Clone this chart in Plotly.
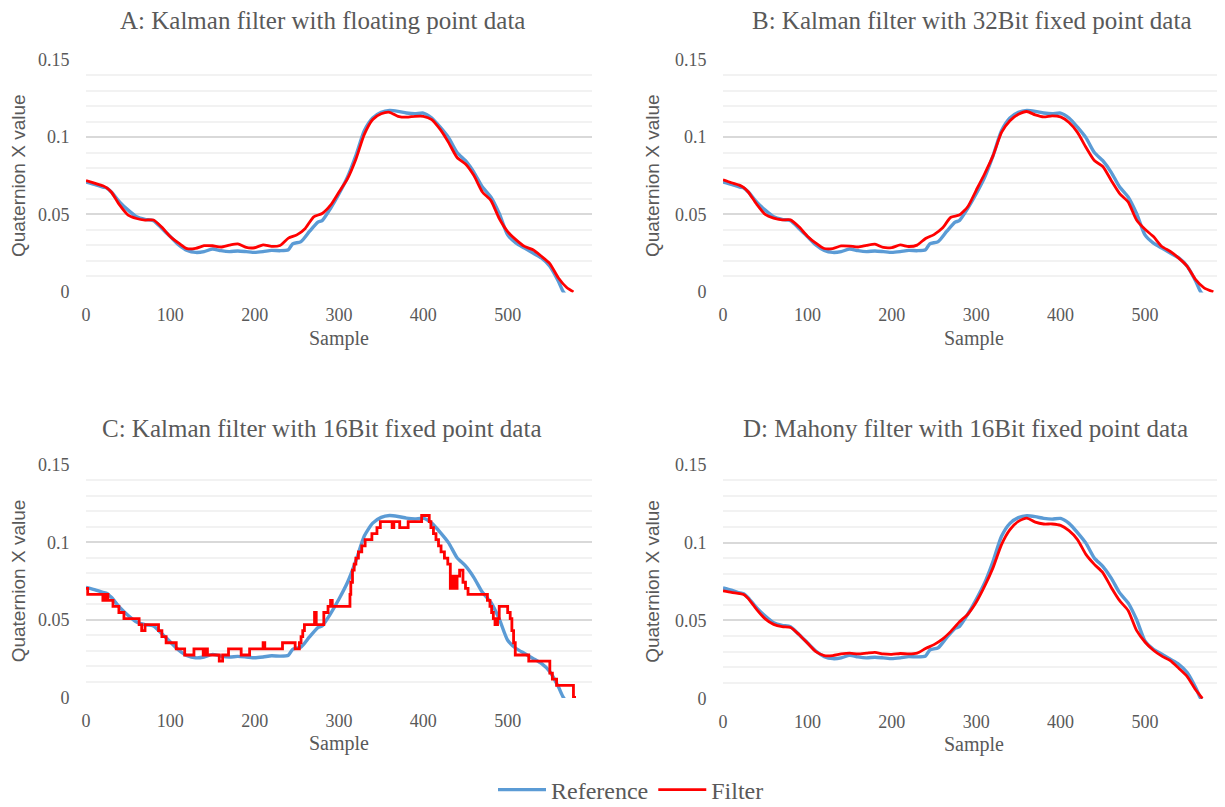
import plotly.graph_objects as go

# ---------------- data ----------------
REF_SAMPLE = [0, 10, 20, 25, 30, 40, 50, 60, 70, 80, 90,
              100, 110, 120, 130, 140, 150, 160, 170, 180, 190, 200, 210, 220, 230, 240,
              245, 255, 265, 275, 280, 290,
              300, 310, 320, 330, 340, 350, 360, 370, 380, 390, 400, 410, 420, 430, 440,
              450, 460, 470, 480, 490, 500, 510, 520, 530, 540, 550, 560, 566, 575]
REF_Q = [0.0709, 0.0694, 0.0677, 0.067, 0.0645, 0.058, 0.0528, 0.0485, 0.0468, 0.046, 0.041,
         0.0357, 0.0304, 0.0268, 0.0255, 0.026, 0.0277, 0.0266, 0.026, 0.0264, 0.026, 0.0255,
         0.026, 0.0268, 0.0266, 0.0272,
         0.031, 0.0325, 0.039, 0.045, 0.046, 0.054,
         0.0634, 0.074, 0.088, 0.104, 0.1123, 0.116, 0.1172, 0.1166, 0.1155, 0.115, 0.1155,
         0.1123, 0.1064, 0.0996, 0.090, 0.0847, 0.0772, 0.0677, 0.0613, 0.0506, 0.0368,
         0.0315, 0.0283, 0.0251, 0.0219, 0.0166, 0.007, 0.0, -0.006]

FILT_SAMPLE = [0, 10, 20, 25, 30, 40, 50, 60, 70, 80, 90,
               100, 110, 120, 130, 140, 150, 160, 170, 180, 190, 200, 210, 220, 230, 240,
               250, 260, 270, 280, 290, 300, 310, 320, 330, 340, 350, 360, 370, 380, 390,
               400, 410, 420, 430, 440, 450, 460, 470, 480, 490, 500, 510, 520, 530, 540,
               550, 560, 570]

FILT_A = [0.0719, 0.0702, 0.0685, 0.067, 0.0645, 0.056, 0.0496, 0.0474, 0.0464, 0.0464, 0.0417,
          0.0357, 0.0315, 0.0279, 0.0281, 0.0298, 0.0298, 0.029, 0.0302, 0.031, 0.0287, 0.0285,
          0.0304, 0.0294, 0.03, 0.0347, 0.0368, 0.041, 0.0485, 0.0506, 0.056, 0.0645, 0.073,
          0.0857, 0.1017, 0.1113, 0.115, 0.116, 0.1134, 0.1128, 0.1134, 0.1134, 0.1113, 0.1049,
          0.0964, 0.0868, 0.0826, 0.0751, 0.0645, 0.0591, 0.0474, 0.0389, 0.0336, 0.0294,
          0.0272, 0.023, 0.0183, 0.0091, 0.0028]
FILT_A_END = [578, 0.0]

FILT_B = [0.0724, 0.0705, 0.0688, 0.0672, 0.0645, 0.0565, 0.05, 0.0476, 0.0465, 0.0465, 0.042,
          0.036, 0.0315, 0.028, 0.028, 0.0297, 0.0296, 0.029, 0.03, 0.0308, 0.0287, 0.0286,
          0.0303, 0.0293, 0.0302, 0.0345, 0.037, 0.0412, 0.0482, 0.0496, 0.055, 0.0656, 0.0763,
          0.088, 0.103, 0.1105, 0.1147, 0.1165, 0.1143, 0.113, 0.1137, 0.113, 0.1094, 0.103,
          0.0934, 0.0848, 0.081, 0.072, 0.0635, 0.0581, 0.0464, 0.0404, 0.0357, 0.0293,
          0.0261, 0.0218, 0.0165, 0.0079, 0.0026]
FILT_B_END = [581, 0.0]

FILT_D = [0.069, 0.068, 0.0672, 0.0665, 0.064, 0.057, 0.051, 0.0475, 0.046, 0.0455, 0.041,
          0.0355, 0.030, 0.0275, 0.0275, 0.0285, 0.029, 0.0285, 0.029, 0.0295, 0.0285, 0.0282,
          0.0288, 0.0285, 0.029, 0.032, 0.0345, 0.038, 0.043, 0.049, 0.054, 0.0617, 0.072,
          0.0839, 0.0987, 0.1083, 0.1136, 0.1157, 0.1131, 0.1119, 0.1119, 0.111, 0.1076, 0.1019,
          0.0924, 0.086, 0.0807, 0.0712, 0.0627, 0.0564, 0.0436, 0.0362, 0.0309, 0.0271,
          0.0242, 0.0193, 0.014, 0.0055]
FILT_D_END = [568, 0.0]

# 16-bit Kalman: quantised, step changes (sample where the level changes, new level)
FILT_C_SAMPLE = [0, 2, 20, 23, 26, 32, 39, 45, 63, 66, 70, 86, 90, 95, 107, 117, 128, 139, 142,
                 144, 158, 162, 169, 184, 194, 210, 212, 233, 248, 253, 255, 257, 259, 271, 273,
                 282, 287, 290, 292, 313, 314, 316, 318, 320, 323, 327, 331, 339, 345, 349, 363,
                 365, 372, 382, 398, 407, 409, 412, 415, 418, 421, 425, 429, 432, 435, 437, 440,
                 443, 447, 450, 453, 476, 479, 481, 483, 485, 488, 490, 500, 503, 505, 507, 509,
                 525, 550, 553, 558, 578, 581]
FILT_C = [0.0703, 0.0664, 0.0625, 0.0664, 0.0625, 0.0586, 0.0547, 0.0508, 0.0469, 0.043, 0.0469,
          0.043, 0.0391, 0.0352, 0.0313, 0.0273, 0.0313, 0.0273, 0.0313, 0.0273, 0.0234, 0.0273,
          0.0313, 0.0273, 0.0313, 0.0352, 0.0313, 0.0352, 0.0313, 0.0352, 0.0391, 0.043, 0.0469,
          0.0547, 0.0469, 0.0547, 0.0586, 0.0625, 0.0586, 0.0664, 0.0742, 0.082, 0.0859, 0.0898,
          0.0938, 0.0977, 0.1016, 0.1055, 0.1094, 0.1133, 0.1094, 0.1133, 0.1094, 0.1133, 0.1172,
          0.1133, 0.1094, 0.1055, 0.1016, 0.0977, 0.0938, 0.0898, 0.0859, 0.0703, 0.0781, 0.0703,
          0.0781, 0.082, 0.0742, 0.0703, 0.0664, 0.0625, 0.0586, 0.0547, 0.0508, 0.0469, 0.0508,
          0.0586, 0.0547, 0.0508, 0.043, 0.0352, 0.0273, 0.0234, 0.0156, 0.0117, 0.0078, 0.0,
          0.0]

TITLES = ["A: Kalman filter with floating point data",
          "B: Kalman filter with 32Bit fixed point data",
          "C: Kalman filter with 16Bit fixed point data",
          "D: Mahony filter with 16Bit fixed point data"]
X_TICKS = [0, 100, 200, 300, 400, 500]
Y_TICKS = [0, 0.05, 0.1, 0.15]
SERIES_NAMES = ["Reference", "Filter"]

# ---------------- layout helpers ----------------
OFF = 8                      # page body margin of the browser
W, H = 1225 - OFF, 807 - OFF
BLUE = "#5B9BD5"
RED = "#FF0000"
GREY = "#595959"
SERIF = "Liberation Serif, Times New Roman, serif"
SANS = "Liberation Sans, Arial, sans-serif"


def fx_(px):
    return (px - OFF) / W


def fy_(py):
    return 1 - (py - OFF) / H


fig = go.Figure()

panels = [
    # (axis id, left px, right px, top px, bottom px, x range max, title center x, y)
    ("", 86, 592, 59, 292.5, 600, 322, 20),
    ("2", 723, 1225, 59, 292.5, 594.8, 972, 20),
    ("3", 86, 592, 464, 698, 600, 322, 428),
    ("4", 723, 1225, 464, 699, 594.8, 965, 428),
]

filters = [
    (FILT_SAMPLE + [FILT_A_END[0]], FILT_A + [FILT_A_END[1]], "spline"),
    (FILT_SAMPLE + [FILT_B_END[0]], FILT_B + [FILT_B_END[1]], "spline"),
    (FILT_C_SAMPLE, FILT_C, "hv"),
    (FILT_SAMPLE[:-1] + [FILT_D_END[0]], FILT_D + [FILT_D_END[1]], "spline"),
]

annotations = []
for i, (ax, l, r, t, b, xmax, tcx, tcy) in enumerate(panels):
    xa = "x" + ax
    ya = "y" + ax
    fig.add_trace(go.Scatter(
        x=REF_SAMPLE, y=REF_Q, mode="lines", name=SERIES_NAMES[0],
        line=dict(color=BLUE, width=3.4, shape="spline", smoothing=0.6),
        xaxis=xa, yaxis=ya, showlegend=(i == 0), legendgroup="ref"))
    fx, fy, shp = filters[i]
    line = dict(color=RED, width=2.8, shape=shp)
    if shp == "spline":
        line["smoothing"] = 0.6
    fig.add_trace(go.Scatter(
        x=fx, y=fy, mode="lines", name=SERIES_NAMES[1], line=line,
        xaxis=xa, yaxis=ya, showlegend=(i == 0), legendgroup="filt"))

    xkey = "xaxis" + ax
    ykey = "yaxis" + ax
    fig.update_layout(**{
        xkey: dict(domain=[fx_(l), min(1.0, fx_(r))], range=[0, xmax], anchor=ya,
                   tickvals=X_TICKS, showgrid=False, zeroline=False, showline=False,
                   ticks="outside", ticklen=6, tickcolor="rgba(0,0,0,0)",
                   tickfont=dict(family=SERIF, size=18, color=GREY),
                   title=dict(text="Sample", standoff=6,
                              font=dict(family=SERIF, size=20, color=GREY))),
        ykey: dict(domain=[fy_(b), fy_(t)], range=[-0.0004, 0.1504], anchor=xa,
                   tickvals=Y_TICKS, showgrid=True, gridcolor="#D9D9D9", gridwidth=1.5,
                   zeroline=False, showline=False,
                   ticks="outside", ticklen=12, tickcolor="rgba(0,0,0,0)",
                   tickfont=dict(family=SERIF, size=18, color=GREY),
                   minor=dict(dtick=0.01, tick0=0, showgrid=True, gridcolor="#F2F2F2",
                              gridwidth=1.5),
                   title=dict(text="Quaternion X value", standoff=10,
                              font=dict(family=SANS, size=19, color=GREY))),
    })
    annotations.append(dict(text=TITLES[i], x=fx_(tcx), y=fy_(tcy), xref="paper",
                            yref="paper", xanchor="center", yanchor="middle",
                            showarrow=False,
                            font=dict(family=SERIF, size=25, color=GREY)))

fig.update_layout(
    width=W, height=H,
    margin=dict(l=0, r=0, t=0, b=0, autoexpand=False),
    paper_bgcolor="white", plot_bgcolor="white",
    annotations=annotations,
    showlegend=True,
    legend=dict(orientation="h", x=fx_(631), y=fy_(790), xanchor="center",
                yanchor="middle", font=dict(family=SERIF, size=24, color=GREY),
                itemwidth=48, bgcolor="rgba(0,0,0,0)", borderwidth=0),
)

fig.write_html("out.html")
